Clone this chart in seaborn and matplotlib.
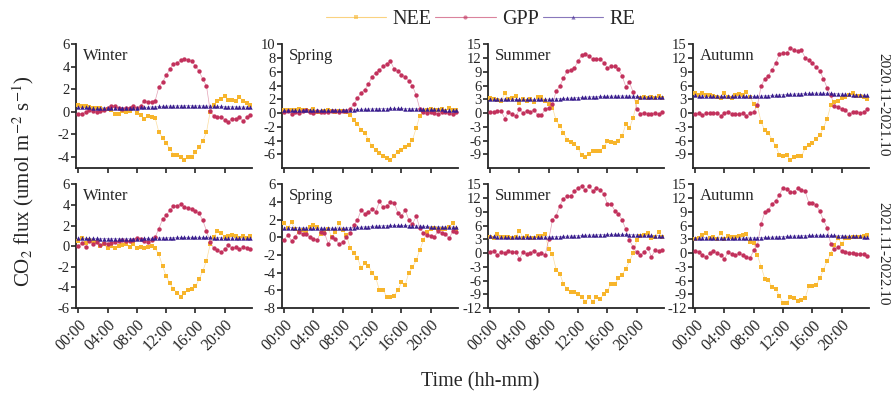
import numpy as np
import seaborn as sns
import matplotlib.pyplot as plt
from matplotlib.lines import Line2D

# half-hourly time axis (hours)
hours = np.arange(48) * 0.5
tick_hours = [0, 4, 8, 12, 16, 20]
tick_labels = ['00:00', '04:00', '08:00', '12:00', '16:00', '20:00']

# ---- 2020.11-2021.10 ----
nee_w1 = [0.6, 0.55, 0.5, 0.4, 0.35, 0.3, 0.35, 0.2, 0.25, 0.2,
          -0.2, -0.2, 0.1, 0.0, 0.1, 0.3, -0.1, -0.3, -0.6, -0.4,
          -0.5, -0.55, -1.8, -2.3, -2.8, -3.3, -3.8, -3.8, -4.0, -4.25,
          -4.0, -4.0, -3.6, -3.1, -2.6, -1.8, 0.0, 0.6, 0.95, 1.15,
          1.4, 1.1, 1.05, 1.0, 1.3, 1.0, 0.8, 0.6]
gpp_w1 = [-0.15, -0.15, -0.05, 0.2, 0.05, 0.0, 0.1, 0.2, 0.3, 0.55,
          0.55, 0.3, 0.25, 0.3, 0.3, 0.5, 0.35, 0.5, 1.0, 0.85,
          0.9, 1.0, 2.2, 2.65, 3.25, 3.8, 4.3, 4.35, 4.6, 4.75,
          4.6, 4.5, 4.1, 3.6, 2.9, 2.3, 0.1, -0.35, -0.45, -0.5,
          -0.7, -0.9, -0.6, -0.6, -0.5, -0.8, -0.5, -0.3]
re_w1 = [0.40, 0.40, 0.39, 0.39, 0.38, 0.38, 0.38, 0.37, 0.37, 0.37,
         0.36, 0.36, 0.36, 0.36, 0.37, 0.37, 0.38, 0.39, 0.40, 0.42,
         0.44, 0.46, 0.48, 0.50, 0.51, 0.52, 0.53, 0.54, 0.54, 0.55,
         0.55, 0.55, 0.54, 0.54, 0.53, 0.52, 0.51, 0.50, 0.49, 0.48,
         0.47, 0.46, 0.45, 0.45, 0.44, 0.44, 0.43, 0.43]

nee_s1 = [0.4, 0.5, 0.5, 0.4, 0.6, 0.4, 0.5, 0.3, 0.6, 0.2,
          0.2, 0.3, 0.4, 0.3, 0.2, 0.3, 0.3, 0.2, -0.3, -1.0,
          -1.6, -2.4, -2.9, -3.9, -4.8, -5.4, -5.8, -6.2, -6.5, -6.9,
          -6.2, -5.6, -5.4, -5.0, -4.6, -3.9, -2.2, -0.4, 0.3, 0.5,
          0.6, 0.4, 0.5, 0.6, 0.3, 0.7, 0.5, 0.4]
gpp_s1 = [0.2, 0.3, -0.1, 0.1, 0.0, 0.3, 0.4, 0.2, 0.0, 0.3,
          0.2, 0.1, 0.2, 0.3, 0.3, 0.2, 0.3, 0.3, 0.6, 1.3,
          2.2, 3.0, 3.4, 4.3, 5.3, 5.9, 6.3, 6.8, 7.2, 7.6,
          6.4, 6.2, 5.6, 5.3, 4.7, 4.0, 2.6, 0.6, 0.1, 0.0,
          0.2, 0.0, -0.1, 0.2, 0.1, 0.0, -0.2, 0.1]
re_s1 = [0.45, 0.45, 0.44, 0.44, 0.43, 0.43, 0.43, 0.42, 0.42, 0.42,
         0.42, 0.42, 0.43, 0.43, 0.44, 0.45, 0.46, 0.48, 0.50, 0.52,
         0.54, 0.56, 0.58, 0.60, 0.62, 0.64, 0.65, 0.66, 0.67, 0.68,
         0.68, 0.68, 0.68, 0.67, 0.66, 0.65, 0.64, 0.62, 0.60, 0.58,
         0.56, 0.55, 0.54, 0.53, 0.52, 0.51, 0.50, 0.50]

nee_su1 = [3.2, 3.0, 2.8, 2.7, 4.3, 3.0, 3.3, 3.7, 2.3, 3.0,
           2.7, 3.0, 2.5, 3.6, 3.6, 2.6, 2.0, 1.2, -1.6, -2.8,
           -4.3, -5.8, -6.3, -6.7, -7.7, -9.2, -9.6, -8.9, -8.2, -8.2,
           -8.2, -7.4, -6.2, -6.4, -6.6, -6.0, -5.0, -2.4, -3.3, -1.0,
           2.4, 3.3, 3.6, 3.4, 3.6, 3.3, 3.7, 3.2]
gpp_su1 = [0.2, 0.3, 0.4, 0.5, -1.2, 0.2, -0.2, -0.6, 0.8, 0.0,
           0.5, 0.2, 0.7, -0.5, -0.4, 0.8, 1.2, 2.0, 4.8, 5.9,
           7.6, 9.2, 9.5, 9.9, 11.4, 12.6, 13.0, 12.4, 11.8, 11.8,
           11.8, 11.0, 9.9, 10.2, 10.2, 9.6, 8.1, 5.8, 6.7, 4.6,
           1.0, -0.1, 0.1, -0.1, -0.2, 0.0, -0.3, 0.2]
re_su1 = [3.15, 3.12, 3.10, 3.08, 3.06, 3.04, 3.02, 3.00, 3.00, 2.99,
          2.98, 2.98, 2.98, 2.99, 3.00, 3.02, 3.05, 3.08, 3.12, 3.16,
          3.20, 3.25, 3.30, 3.35, 3.40, 3.45, 3.50, 3.55, 3.58, 3.62,
          3.65, 3.68, 3.70, 3.72, 3.74, 3.75, 3.76, 3.75, 3.73, 3.70,
          3.66, 3.62, 3.58, 3.55, 3.52, 3.50, 3.48, 3.46]

nee_a1 = [4.3, 4.0, 4.5, 3.9, 4.0, 3.8, 3.6, 3.2, 4.3, 3.5,
          3.2, 4.0, 4.1, 3.9, 4.6, 3.5, 2.0, 1.5, -2.0, -3.8,
          -4.4, -5.8, -7.2, -9.2, -9.3, -9.2, -10.3, -9.6, -9.3, -9.4,
          -7.7, -7.0, -6.5, -5.6, -4.8, -3.2, -1.2, 1.7, 2.5, 2.7,
          3.3, 3.6, 3.9, 4.5, 3.8, 3.7, 3.6, 3.0]
gpp_a1 = [-0.3, 0.0, -0.5, 0.0, 0.0, 0.1, 0.0, -0.6, 0.0, 0.3,
          -0.1, -0.2, -0.3, 0.0, -0.6, 0.0, 0.3, 1.8, 5.9, 7.5,
          8.2, 9.5, 11.0, 13.0, 13.2, 13.2, 14.3, 13.8, 13.6, 13.8,
          12.1, 11.5, 10.9, 10.0, 9.2, 7.5, 5.5, 3.9, 1.6, 1.4,
          0.8, 0.6, -0.3, 0.2, 0.3, 0.1, 0.2, 0.9]
re_a1 = [3.85, 3.83, 3.80, 3.78, 3.76, 3.74, 3.72, 3.70, 3.68, 3.67,
         3.66, 3.65, 3.64, 3.64, 3.64, 3.65, 3.67, 3.70, 3.74, 3.78,
         3.83, 3.88, 3.93, 3.98, 4.03, 4.08, 4.13, 4.18, 4.22, 4.26,
         4.30, 4.33, 4.35, 4.36, 4.36, 4.35, 4.33, 4.30, 4.26, 4.22,
         4.18, 4.14, 4.10, 4.06, 4.02, 3.98, 3.95, 3.92]

# ---- 2021.11-2022.10 ----
nee_w2 = [0.5, 0.8, 0.3, 0.6, 0.5, 0.4, 0.0, 0.2, -0.2, 0.0,
          -0.2, 0.0, 0.1, 0.2, -0.1, 0.2, -0.2, -0.1, -0.2, -0.1,
          0.0, -0.2, -0.8, -1.9, -2.9, -3.6, -4.2, -4.5, -4.9, -4.5,
          -4.3, -4.2, -3.9, -3.2, -2.4, -1.4, 0.2, 0.9, 1.5, 1.3,
          0.9, 1.0, 1.1, 1.0, 0.8, 1.0, 0.8, 1.0]
gpp_w2 = [0.0, 0.3, -0.1, 0.5, 0.2, 0.4, 0.1, 0.3, 0.2, 0.3,
          0.4, 0.5, 0.6, 0.5, 0.5, 0.6, 0.8, 0.7, 0.5, 0.4,
          0.6, 0.9, 1.7, 2.6, 3.0, 3.5, 3.9, 3.95, 4.1, 3.8,
          3.75, 3.6, 3.4, 3.2, 2.5, 1.5, 0.4, -0.2, -0.4, -0.6,
          -0.3, 0.1, -0.2, -0.1, -0.3, -0.1, -0.2, -0.3]
re_w2 = [0.78, 0.78, 0.77, 0.77, 0.76, 0.76, 0.75, 0.75, 0.74, 0.74,
         0.73, 0.73, 0.73, 0.73, 0.73, 0.74, 0.74, 0.75, 0.76, 0.77,
         0.78, 0.79, 0.80, 0.81, 0.82, 0.83, 0.84, 0.85, 0.86, 0.86,
         0.87, 0.87, 0.87, 0.87, 0.86, 0.86, 0.85, 0.84, 0.83, 0.82,
         0.81, 0.80, 0.80, 0.79, 0.79, 0.78, 0.78, 0.78]

nee_s2 = [1.6, 1.1, 1.7, 1.0, 0.6, 0.8, 0.6, 1.2, 1.4, 1.2,
          0.4, 0.6, 1.0, 0.0, 0.6, 1.6, 0.8, 0.3, -1.2, -1.8,
          -2.3, -3.5, -2.9, -3.2, -4.0, -4.6, -6.0, -6.0, -6.7, -6.8,
          -6.6, -6.0, -5.1, -5.4, -4.0, -3.4, -2.6, -1.4, -0.3, 0.6,
          0.9, 1.1, 0.9, 1.0, 1.0, 1.2, 1.6, 0.9]
gpp_s2 = [-0.3, 0.3, -0.4, 0.1, 0.6, 0.4, 0.4, 0.0, -0.2, -0.3,
          0.6, 0.5, -0.7, 0.0, -0.2, -0.8, -0.5, 0.0, 0.5, 1.4,
          2.0, 3.1, 2.7, 2.9, 3.2, 2.9, 4.1, 3.4, 3.6, 4.0,
          3.9, 2.8, 2.4, 3.1, 2.0, 1.5, 2.4, 1.1, 0.5, 0.3,
          0.2, 0.1, 0.7, 0.5, 0.4, -0.1, 0.7, 0.6]
re_s2 = [1.12, 1.11, 1.10, 1.10, 1.09, 1.08, 1.08, 1.07, 1.07, 1.06,
         1.06, 1.05, 1.05, 1.05, 1.05, 1.06, 1.07, 1.08, 1.10, 1.12,
         1.14, 1.17, 1.20, 1.23, 1.26, 1.28, 1.30, 1.32, 1.34, 1.35,
         1.36, 1.36, 1.36, 1.35, 1.34, 1.33, 1.31, 1.29, 1.27, 1.25,
         1.23, 1.22, 1.21, 1.20, 1.19, 1.18, 1.18, 1.17]

nee_su2 = [3.5, 3.4, 4.2, 3.6, 3.6, 3.5, 3.3, 3.5, 4.9, 3.3,
           3.8, 3.3, 3.2, 3.8, 3.8, 4.1, 0.8, -0.3, -3.6, -4.5,
           -6.8, -7.8, -8.5, -8.6, -9.0, -9.6, -10.7, -9.6, -10.6, -9.5,
           -10.0, -8.9, -8.2, -6.7, -6.8, -5.5, -4.7, -3.4, -1.8, 0.0,
           2.8, 3.7, 4.0, 4.5, 3.2, 3.5, 4.7, 3.5]
gpp_su2 = [0.2, 0.4, -0.5, 0.3, 0.0, 0.4, 0.2, 0.3, -1.3, 0.3,
           -0.3, 0.1, 0.5, -0.2, 0.0, -0.4, 3.0, 7.3, 8.2, 10.4,
           11.9, 12.5, 12.5, 13.5, 14.3, 14.7, 13.7, 14.7, 13.5, 14.3,
           13.8, 12.9, 10.7, 10.7, 9.3, 8.6, 7.2, 5.2, 2.8, 1.3,
           0.2, -0.5, 0.3, 1.1, -0.8, 0.6, 0.4, 0.7]
re_su2 = [3.65, 3.63, 3.61, 3.60, 3.58, 3.57, 3.56, 3.55, 3.54, 3.53,
          3.52, 3.52, 3.51, 3.51, 3.51, 3.52, 3.54, 3.56, 3.59, 3.62,
          3.66, 3.70, 3.74, 3.78, 3.82, 3.86, 3.90, 3.94, 3.97, 4.00,
          4.03, 4.06, 4.08, 4.10, 4.11, 4.11, 4.10, 4.08, 4.05, 4.02,
          3.98, 3.95, 3.92, 3.89, 3.86, 3.84, 3.82, 3.80]

nee_a2 = [3.0, 3.3, 4.0, 4.3, 3.2, 3.6, 3.0, 4.5, 3.0, 3.8,
          3.5, 3.5, 3.8, 4.0, 4.2, 2.5, 2.2, -0.5, -3.0, -5.6,
          -5.9, -7.5, -7.9, -9.4, -10.9, -10.8, -9.7, -9.9, -10.5, -10.2,
          -9.8, -7.3, -7.2, -7.0, -5.5, -3.6, -1.8, -0.1, 1.8, 3.2,
          2.0, 3.3, 3.4, 3.5, 3.5, 3.5, 3.7, 4.0]
gpp_a2 = [0.5, 0.3, -0.5, -0.9, 0.0, 0.5, 0.0, -0.4, -1.3, 0.3,
          -0.2, -0.5, 0.0, -0.5, -0.8, -1.0, 0.6, 1.8, 6.4, 9.0,
          9.4, 10.8, 11.4, 12.8, 14.3, 14.1, 13.3, 13.4, 14.2, 13.8,
          13.5, 11.0, 11.0, 10.6, 9.1, 7.2, 5.5, 1.9, 0.8, 1.4,
          0.4, 0.3, 0.1, 0.0, -0.1, -0.1, -0.3, -0.7]
re_a2 = [3.40, 3.38, 3.37, 3.36, 3.35, 3.34, 3.33, 3.32, 3.31, 3.30,
         3.30, 3.30, 3.30, 3.30, 3.31, 3.32, 3.34, 3.36, 3.39, 3.42,
         3.46, 3.50, 3.54, 3.58, 3.62, 3.66, 3.70, 3.74, 3.77, 3.80,
         3.83, 3.86, 3.88, 3.90, 3.91, 3.91, 3.90, 3.88, 3.85, 3.82,
         3.78, 3.75, 3.72, 3.69, 3.66, 3.64, 3.62, 3.60]

seasons = ['Winter', 'Spring', 'Summer', 'Autumn']
periods = ['2020.11-2021.10', '2021.11-2022.10']

rows = [
    [(nee_w1, gpp_w1, re_w1), (nee_s1, gpp_s1, re_s1),
     (nee_su1, gpp_su1, re_su1), (nee_a1, gpp_a1, re_a1)],
    [(nee_w2, gpp_w2, re_w2), (nee_s2, gpp_s2, re_s2),
     (nee_su2, gpp_su2, re_su2), (nee_a2, gpp_a2, re_a2)],
]
ylims = [[(-5, 6), (-8, 10), (-12, 15), (-12, 15)],
         [(-6, 6), (-8, 6), (-12, 15), (-12, 15)]]
ysteps = [[2, 2, 3, 3], [2, 2, 3, 3]]
ystart = [[-4, -6, -9, -9], [-6, -8, -12, -12]]

names = ['NEE', 'GPP', 'RE']
colors = ['#F7B52C', '#C2315C', '#3A1E8E']
markers = ['s', 'o', '^']

sns.set_style('ticks')
plt.rcParams['font.family'] = ['Liberation Serif', 'DejaVu Serif']
plt.rcParams['mathtext.fontset'] = 'stix'
plt.rcParams['axes.unicode_minus'] = False

fig = plt.figure(figsize=(8.96, 3.94), dpi=100)
lefts = [0.0848, 0.3147, 0.5446, 0.7734]
bottoms = [0.5736, 0.2183]
w, h = 0.1964, 0.3135

for r in range(2):
    for c in range(4):
        ax = fig.add_axes([lefts[c], bottoms[r], w, h])
        for vals, col, mk in zip(rows[r][c], colors, markers):
            sns.lineplot(x=hours, y=vals, ax=ax, color=col, lw=0.5, alpha=0.45)
            sns.scatterplot(x=hours, y=vals, ax=ax, color=col, marker=mk,
                            s=10, linewidth=0, zorder=3)
        ax.set_xlim(-0.3, 23.7)
        lo, hi = ylims[r][c]
        ax.set_ylim(lo, hi)
        ax.set_yticks(np.arange(ystart[r][c], hi + 0.1, ysteps[r][c]))
        ax.set_xticks(tick_hours)
        if r == 1:
            ax.set_xticklabels(tick_labels, rotation=45, ha='right',
                               rotation_mode='anchor', fontsize=11.5)
        else:
            ax.set_xticklabels([])
        ax.tick_params(axis='y', labelsize=10.5, length=3.5, width=1.2, pad=1)
        ax.tick_params(axis='x', length=3.5, width=1.2, pad=3)
        ax.set_xlabel('')
        ax.set_ylabel('')
        for s in ['left', 'bottom']:
            ax.spines[s].set_linewidth(1.3)
        sns.despine(ax=ax)
        ax.text(0.04, 0.97, seasons[c], transform=ax.transAxes,
                ha='left', va='top', fontsize=12)
        ax.grid(False)

fig.text(0.985, 0.735, periods[0], rotation=-90, ha='center', va='center', fontsize=11)
fig.text(0.985, 0.355, periods[1], rotation=-90, ha='center', va='center', fontsize=11)
fig.text(0.026, 0.54, r'CO$_2$ flux (umol m$^{-2}$ s$^{-1}$)', rotation=90,
         ha='center', va='center', fontsize=15)
fig.text(0.536, 0.03, 'Time (hh-mm)', ha='center', va='center', fontsize=14.5)

handles = [Line2D([0], [0], color=col, lw=0.8, alpha=0.6, marker=mk,
                  markersize=3, markerfacecolor=col, markeredgewidth=0)
           for col, mk in zip(colors, markers)]
fig.legend(handles, names, loc='center', bbox_to_anchor=(0.536, 0.95), ncol=3,
           frameon=False, fontsize=14.5, handlelength=3.0, handletextpad=0.3,
           columnspacing=0.2)

fig.savefig('out.png', dpi=100)
